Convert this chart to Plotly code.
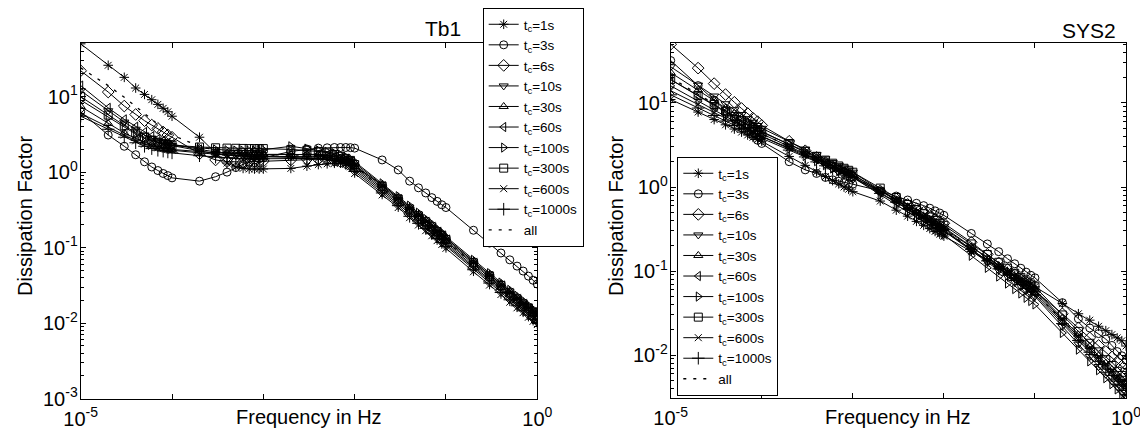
import plotly.graph_objects as go

FREQ_HZ = [1e-5, 2e-5, 3e-5, 4e-5, 5e-5, 6e-5, 7e-5, 8e-5, 9e-5,
           1e-4, 2e-4, 3e-4, 4e-4, 5e-4, 6e-4, 7e-4, 8e-4, 9e-4,
           1e-3, 2e-3, 3e-3, 4e-3, 5e-3, 6e-3, 7e-3, 8e-3, 9e-3,
           1e-2, 2e-2, 3e-2, 4e-2, 5e-2, 6e-2, 7e-2, 8e-2, 9e-2,
           1e-1, 2e-1, 3e-1, 4e-1, 5e-1, 6e-1, 7e-1, 8e-1, 9e-1,
           1.0]

SERIES_LABELS = ["1s", "3s", "6s", "10s", "30s", "60s", "100s", "300s", "600s", "1000s"]

# ---------------- Tb1 (left panel) ----------------
TB1_1S = [50, 26, 18, 13, 10.7, 9.1, 7.9, 7.0, 6.3,
          5.5, 2.9, 1.8, 1.32, 1.17, 1.12, 1.10, 1.10, 1.10,
          1.10, 1.12, 1.20, 1.26, 1.29, 1.31, 1.32, 1.30, 1.26,
          1.2, 0.68, 0.46, 0.34, 0.275, 0.23, 0.198, 0.17, 0.152,
          0.134, 0.066, 0.044, 0.033, 0.0264, 0.022, 0.0189, 0.0165, 0.0146,
          0.0132]
TB1_3S = [6.3, 3.1, 2.2, 1.7, 1.37, 1.17, 1.05, 0.96, 0.90,
          0.84, 0.76, 0.87, 1.0, 1.15, 1.27, 1.36, 1.44, 1.5,
          1.55, 1.88, 2.02, 2.08, 2.1, 2.12, 2.12, 2.12, 2.11,
          2.08, 1.45, 1.07, 0.76, 0.62, 0.53, 0.46, 0.41, 0.37,
          0.34, 0.17, 0.115, 0.085, 0.069, 0.057, 0.049, 0.042, 0.037,
          0.033]
TB1_6S = [22, 11.5, 7.5, 5.8, 4.8, 4.2, 3.8, 3.4, 3.1,
          2.9, 1.75, 1.45, 1.38, 1.36, 1.36, 1.37, 1.38, 1.39,
          1.40, 1.45, 1.48, 1.48, 1.46, 1.42, 1.37, 1.31, 1.25,
          1.08, 0.56, 0.38, 0.28, 0.225, 0.19, 0.162, 0.14, 0.124,
          0.11, 0.054, 0.036, 0.027, 0.0216, 0.018, 0.0155, 0.0135, 0.012,
          0.0108]
TB1_10S = [12, 6.5, 4.6, 3.7, 3.1, 2.8, 2.6, 2.45, 2.35,
           2.25, 1.9, 1.75, 1.7, 1.65, 1.62, 1.6, 1.6, 1.6,
           1.6, 1.62, 1.63, 1.62, 1.58, 1.53, 1.47, 1.40, 1.33,
           1.20, 0.62, 0.42, 0.31, 0.25, 0.21, 0.18, 0.155, 0.138,
           0.122, 0.060, 0.040, 0.030, 0.024, 0.020, 0.0172, 0.0150, 0.0133,
           0.0120]
TB1_30S = [7.4, 4.4, 3.3, 2.8, 2.5, 2.3, 2.2, 2.1, 2.05,
           2.0, 1.85, 1.8, 1.78, 1.76, 1.75, 1.74, 1.73, 1.72,
           1.72, 1.72, 1.71, 1.69, 1.65, 1.6, 1.54, 1.47, 1.40,
           1.32, 0.68, 0.46, 0.34, 0.275, 0.23, 0.198, 0.17, 0.152,
           0.134, 0.066, 0.044, 0.033, 0.0264, 0.022, 0.0189, 0.0165, 0.0146,
           0.0132]
TB1_60S = [14, 7.1, 5.0, 4.0, 3.4, 3.0, 2.75, 2.6, 2.45,
           2.35, 2.0, 1.85, 1.8, 1.76, 1.74, 1.72, 1.7, 1.7,
           1.7, 1.72, 1.73, 1.72, 1.68, 1.62, 1.55, 1.47, 1.39,
           1.14, 0.59, 0.40, 0.295, 0.238, 0.2, 0.171, 0.147, 0.131,
           0.116, 0.057, 0.038, 0.0285, 0.0228, 0.019, 0.0163, 0.0143, 0.0126,
           0.0114]
TB1_100S = [9, 5.3, 3.9, 3.2, 2.8, 2.6, 2.45, 2.35, 2.3,
            2.25, 2.1, 2.0, 1.95, 1.93, 1.92, 1.92, 1.93, 1.95,
            1.98, 2.2, 2.05, 1.95, 1.86, 1.78, 1.7, 1.6, 1.5,
            1.38, 0.71, 0.48, 0.36, 0.29, 0.24, 0.207, 0.178, 0.159,
            0.14, 0.069, 0.046, 0.0345, 0.0276, 0.023, 0.0198, 0.0173, 0.0153,
            0.0138]
TB1_300S = [10, 5.7, 4.1, 3.3, 2.9, 2.65, 2.5, 2.4, 2.32,
            2.28, 2.15, 2.1, 2.08, 2.07, 2.06, 2.05, 2.05, 2.05,
            2.05, 2.0, 1.95, 1.88, 1.8, 1.71, 1.62, 1.52, 1.43,
            1.26, 0.65, 0.44, 0.325, 0.263, 0.22, 0.189, 0.163, 0.145,
            0.128, 0.063, 0.042, 0.0315, 0.0252, 0.021, 0.018, 0.0158, 0.014,
            0.0126]
TB1_600S = [6, 4.0, 3.1, 2.6, 2.35, 2.2, 2.1, 2.05, 2.0,
            1.95, 1.8, 1.72, 1.68, 1.65, 1.63, 1.62, 1.61, 1.6,
            1.6, 1.58, 1.56, 1.53, 1.48, 1.42, 1.35, 1.27, 1.18,
            0.96, 0.5, 0.34, 0.25, 0.2, 0.168, 0.144, 0.124, 0.11,
            0.098, 0.048, 0.032, 0.024, 0.019, 0.016, 0.0138, 0.012, 0.0106,
            0.0096]
TB1_1000S = [5.5, 3.7, 2.9, 2.45, 2.2, 2.05, 1.95, 1.9, 1.85,
             1.8, 1.65, 1.58, 1.55, 1.52, 1.5, 1.5, 1.5, 1.5,
             1.5, 1.52, 1.53, 1.52, 1.49, 1.44, 1.38, 1.31, 1.23,
             1.02, 0.53, 0.36, 0.26, 0.21, 0.18, 0.153, 0.132, 0.117,
             0.104, 0.051, 0.034, 0.0255, 0.0204, 0.017, 0.0146, 0.0128, 0.0113,
             0.0102]
TB1_ALL = [24, 14, 9.8, 7.5, 6.0, 5.0, 4.3, 3.8, 3.4,
           3.1, 2.2, 1.95, 1.85, 1.8, 1.76, 1.74, 1.72, 1.71,
           1.7, 1.7, 1.69, 1.67, 1.63, 1.58, 1.52, 1.45, 1.37,
           1.2, 0.62, 0.42, 0.31, 0.25, 0.21, 0.18, 0.155, 0.138,
           0.122, 0.060, 0.040, 0.030, 0.024, 0.020, 0.0172, 0.0150, 0.0133,
           0.012]

# ---------------- SYS2 (right panel) ----------------
SYS2_1S = [11, 7.8, 6.35, 5.5, 4.9, 4.5, 4.16, 3.9, 3.67,
           3.5, 2.31, 1.81, 1.52, 1.33, 1.19, 1.09, 1.0, 0.94,
           0.88, 0.68, 0.53, 0.45, 0.39, 0.35, 0.32, 0.296, 0.275,
           0.26, 0.171, 0.134, 0.113, 0.099, 0.089, 0.081, 0.075, 0.070,
           0.065, 0.041, 0.031, 0.026, 0.022, 0.0195, 0.0175, 0.016, 0.0148,
           0.0128]
SYS2_3S = [32, 16.1, 10.8, 8.1, 6.5, 5.4, 4.6, 4.05, 3.6,
           3.3, 2.0, 1.6, 1.45, 1.3, 1.22, 1.17, 1.13, 1.1,
           1.08, 0.9, 0.78, 0.7, 0.64, 0.6, 0.56, 0.52, 0.49,
           0.46, 0.28, 0.21, 0.17, 0.14, 0.122, 0.108, 0.097, 0.089,
           0.083, 0.042, 0.027, 0.021, 0.018, 0.0155, 0.013, 0.011, 0.0098,
           0.0087]
SYS2_6S = [50, 26, 17, 12.6, 10.2, 8.6, 7.5, 6.6, 6.0,
           5.4, 3.5, 2.7, 2.25, 1.95, 1.75, 1.6, 1.48, 1.38,
           1.3, 0.9, 0.72, 0.62, 0.55, 0.5, 0.46, 0.42, 0.39,
           0.37, 0.22, 0.158, 0.125, 0.104, 0.09, 0.079, 0.07, 0.064,
           0.058, 0.031, 0.021, 0.016, 0.013, 0.011, 0.0095, 0.0083, 0.0074,
           0.0066]
SYS2_10S = [27, 16.3, 12.1, 9.8, 8.3, 7.3, 6.5, 5.9, 5.4,
            5.0, 3.48, 2.82, 2.42, 2.16, 1.96, 1.81, 1.69, 1.59,
            1.5, 0.92, 0.70, 0.57, 0.49, 0.43, 0.385, 0.35, 0.32,
            0.30, 0.175, 0.128, 0.102, 0.086, 0.074, 0.066, 0.059, 0.054,
            0.050, 0.0219, 0.0135, 0.0096, 0.0073, 0.0059, 0.0049, 0.0042, 0.0036,
            0.0032]
SYS2_30S = [23, 14.2, 10.7, 8.7, 7.5, 6.6, 5.9, 5.4, 4.9,
            4.6, 3.2, 2.6, 2.24, 2.0, 1.81, 1.67, 1.56, 1.47,
            1.4, 0.90, 0.69, 0.575, 0.50, 0.44, 0.40, 0.37, 0.343,
            0.32, 0.193, 0.143, 0.116, 0.099, 0.086, 0.077, 0.070, 0.064,
            0.060, 0.0275, 0.0174, 0.0126, 0.0098, 0.0080, 0.0067, 0.0058, 0.0051,
            0.0045]
SYS2_60S = [19, 12.2, 9.4, 7.8, 6.8, 6.0, 5.45, 5.0, 4.65,
            4.3, 3.04, 2.48, 2.15, 1.92, 1.75, 1.63, 1.52, 1.43,
            1.35, 0.86, 0.66, 0.55, 0.47, 0.42, 0.38, 0.347, 0.32,
            0.30, 0.18, 0.134, 0.108, 0.092, 0.080, 0.071, 0.065, 0.059,
            0.055, 0.025, 0.0157, 0.0113, 0.0088, 0.0072, 0.0060, 0.0052, 0.0045,
            0.004]
SYS2_100S = [16, 10.5, 8.3, 7.0, 6.1, 5.4, 5.0, 4.6, 4.3,
             4.0, 2.85, 2.34, 2.03, 1.82, 1.66, 1.54, 1.44, 1.36,
             1.3, 0.81, 0.61, 0.50, 0.43, 0.38, 0.345, 0.315, 0.29,
             0.27, 0.152, 0.109, 0.086, 0.071, 0.061, 0.054, 0.048, 0.044,
             0.040, 0.0183, 0.0116, 0.0084, 0.0066, 0.0053, 0.0045, 0.0039, 0.0034,
             0.003]
SYS2_300S = [19, 12.3, 9.6, 8.0, 6.9, 6.2, 5.6, 5.2, 4.8,
             4.5, 3.23, 2.66, 2.32, 2.09, 1.92, 1.78, 1.67, 1.58,
             1.5, 0.97, 0.75, 0.62, 0.54, 0.48, 0.44, 0.40, 0.37,
             0.35, 0.21, 0.157, 0.127, 0.108, 0.094, 0.084, 0.076, 0.070,
             0.065, 0.030, 0.0191, 0.0138, 0.0109, 0.0088, 0.0075, 0.0064, 0.0057,
             0.005]
SYS2_600S = [14, 9.6, 7.7, 6.6, 5.8, 5.3, 4.9, 4.5, 4.2,
             4.0, 2.92, 2.42, 2.12, 1.92, 1.77, 1.65, 1.55, 1.47,
             1.4, 0.91, 0.70, 0.59, 0.51, 0.45, 0.41, 0.38, 0.35,
             0.33, 0.196, 0.144, 0.116, 0.098, 0.085, 0.076, 0.069, 0.063,
             0.058, 0.0263, 0.0166, 0.0119, 0.0093, 0.0075, 0.0063, 0.0055, 0.0048,
             0.0042]
SYS2_1000S = [12.5, 8.7, 7.1, 6.1, 5.4, 4.95, 4.6, 4.3, 4.0,
              3.8, 2.75, 2.28, 1.99, 1.79, 1.65, 1.54, 1.44, 1.36,
              1.3, 0.84, 0.66, 0.55, 0.48, 0.43, 0.39, 0.356, 0.33,
              0.31, 0.181, 0.132, 0.106, 0.089, 0.077, 0.069, 0.062, 0.056,
              0.052, 0.0237, 0.0149, 0.0108, 0.0084, 0.0068, 0.0057, 0.0049, 0.0043,
              0.0038]
SYS2_ALL = [20, 12.8, 9.8, 8.1, 7.0, 6.2, 5.6, 5.1, 4.7,
            4.3, 3.05, 2.5, 2.16, 1.93, 1.77, 1.64, 1.53, 1.44,
            1.35, 0.87, 0.67, 0.56, 0.48, 0.43, 0.39, 0.355, 0.33,
            0.31, 0.185, 0.137, 0.111, 0.094, 0.082, 0.073, 0.066, 0.060,
            0.055, 0.026, 0.0168, 0.0122, 0.0096, 0.0079, 0.0067, 0.0058, 0.0051,
            0.0045]

TB1_SERIES = [TB1_1S, TB1_3S, TB1_6S, TB1_10S, TB1_30S, TB1_60S,
              TB1_100S, TB1_300S, TB1_600S, TB1_1000S]
SYS2_SERIES = [SYS2_1S, SYS2_3S, SYS2_6S, SYS2_10S, SYS2_30S, SYS2_60S,
               SYS2_100S, SYS2_300S, SYS2_600S, SYS2_1000S]

# ---------------- styles ----------------
SYMBOLS = ["asterisk-open", "circle-open", "diamond-open", "triangle-down-open",
           "triangle-up-open", "triangle-left-open", "triangle-right-open",
           "square-open", "x-thin-open", "cross-thin-open"]
SIZES = [8, 8, 9, 8, 8, 8, 8, 8, 7, 9]
FONT = "Liberation Sans, Arial, Helvetica, sans-serif"

fig = go.Figure()

for panel, series, allvals, xa, ya, lg in [
        ("Tb1", TB1_SERIES, TB1_ALL, "x", "y", "legend"),
        ("SYS2", SYS2_SERIES, SYS2_ALL, "x2", "y2", "legend2")]:
    for lab, vals, sym, sz in zip(SERIES_LABELS, series, SYMBOLS, SIZES):
        fig.add_trace(go.Scatter(
            x=FREQ_HZ, y=vals, mode="lines+markers",
            name="t<sub>c</sub>=" + lab,
            line=dict(color="black", width=1),
            marker=dict(symbol=sym, size=sz, color="black",
                        line=dict(color="black", width=1)),
            xaxis=xa, yaxis=ya, legend=lg))
    fig.add_trace(go.Scatter(
        x=FREQ_HZ, y=allvals, mode="lines", name="all",
        line=dict(color="black", width=1.3, dash="3px,7px"),
        xaxis=xa, yaxis=ya, legend=lg))

minor_vals = [m * 10.0 ** k for k in range(-6, 3) for m in range(2, 10)]

def xax(domain):
    return dict(type="log", domain=domain, range=[-5, 0], automargin=False,
                tickvals=[1e-5, 1e-4, 1e-3, 1e-2, 1e-1, 1],
                ticktext=["10<sup>-5</sup>", "", "", "", "", "10<sup>0</sup>"],
                ticks="inside", ticklen=5, tickcolor="black",
                ticklabelstandoff=2, ticklabeloverflow="allow",
                showline=True, linecolor="black", linewidth=1, mirror="ticks",
                showgrid=False, zeroline=False,
                tickfont=dict(family=FONT, size=20, color="black"))

def yax(domain, rng, tv, tt, anchor):
    return dict(type="log", domain=domain, range=rng, anchor=anchor, automargin=False,
                tickvals=tv, ticktext=tt,
                ticks="inside", ticklen=5, tickcolor="black",
                ticklabelstandoff=-2, ticklabeloverflow="allow",
                showline=True, linecolor="black", linewidth=1, mirror="ticks",
                showgrid=False, zeroline=False,
                minor=dict(tickvals=minor_vals, ticks="inside", ticklen=3,
                           tickcolor="black", showgrid=False),
                tickfont=dict(family=FONT, size=20, color="black"))

legend_style = dict(bgcolor="white", bordercolor="black", borderwidth=1,
                    font=dict(family=FONT, size=13.5, color="black"),
                    xanchor="left", yanchor="top", itemwidth=30,
                    tracegroupgap=0)

fig.update_layout(
    width=1140, height=430,
    margin=dict(l=0, r=0, t=0, b=0, autoexpand=False),
    paper_bgcolor="white", plot_bgcolor="white",
    showlegend=True,
    font=dict(family=FONT, color="black"),
    xaxis=dict(xax([80.7 / 1140, 537.3 / 1140]), anchor="y"),
    yaxis=yax([31.3 / 430, 387 / 430], [-3, 1.71],
              [1e-3, 1e-2, 1e-1, 1, 10],
              ["10<sup>-3</sup>", "10<sup>-2</sup>", "10<sup>-1</sup>",
               "10<sup>0</sup>", "10<sup>1</sup>"], "x"),
    xaxis2=dict(xax([670.7 / 1140, 1126 / 1140]), anchor="y2"),
    yaxis2=yax([31.7 / 430, 387 / 430], [-2.515, 1.714],
               [1e-2, 1e-1, 1, 10],
               ["10<sup>-2</sup>", "10<sup>-1</sup>", "10<sup>0</sup>",
                "10<sup>1</sup>"], "x2"),
    legend=dict(legend_style, x=482.7 / 1140, y=(430 - 8) / 430),
    legend2=dict(legend_style, x=677.3 / 1140, y=(430 - 157) / 430),
    annotations=[
        dict(text="Tb1", x=463 / 1140, y=(430 - 28) / 430, xref="paper", yref="paper",
             xanchor="right", yanchor="middle", showarrow=False,
             font=dict(family=FONT, size=21, color="black")),
        dict(text="SYS2", x=1118 / 1140, y=(430 - 30) / 430, xref="paper", yref="paper",
             xanchor="right", yanchor="middle", showarrow=False,
             font=dict(family=FONT, size=21, color="black")),
        dict(text="Dissipation Factor", x=25 / 1140, y=(430 - 216) / 430,
             xref="paper", yref="paper", textangle=-90, showarrow=False,
             xanchor="center", yanchor="middle",
             font=dict(family=FONT, size=20, color="black")),
        dict(text="Dissipation Factor", x=616 / 1140, y=(430 - 216) / 430,
             xref="paper", yref="paper", textangle=-90, showarrow=False,
             xanchor="center", yanchor="middle",
             font=dict(family=FONT, size=20, color="black")),
        dict(text="Frequency in Hz", x=309 / 1140, y=(430 - 417) / 430,
             xref="paper", yref="paper", showarrow=False,
             xanchor="center", yanchor="middle",
             font=dict(family=FONT, size=20, color="black")),
        dict(text="Frequency in Hz", x=898 / 1140, y=(430 - 417) / 430,
             xref="paper", yref="paper", showarrow=False,
             xanchor="center", yanchor="middle",
             font=dict(family=FONT, size=20, color="black")),
    ],
)

fig.write_html("out.html")
